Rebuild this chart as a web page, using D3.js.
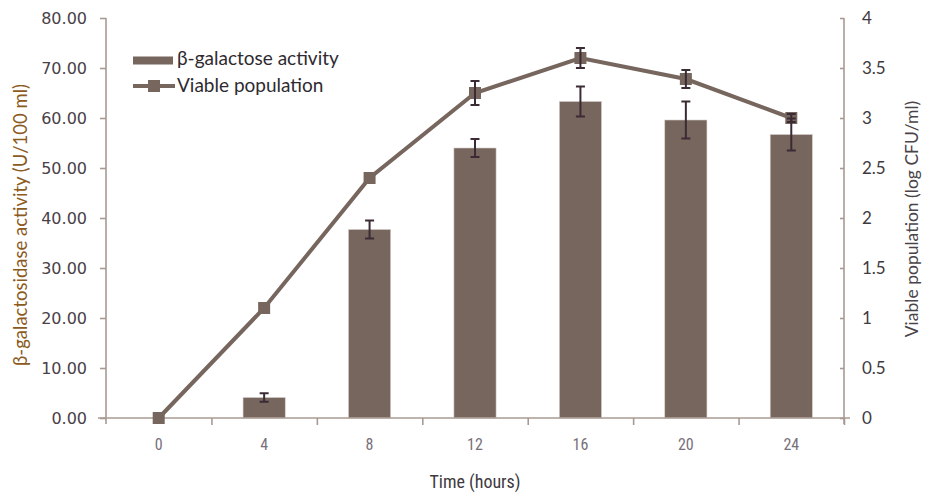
<!DOCTYPE html>
<html><head><meta charset="utf-8">
<script src="https://cdn.jsdelivr.net/npm/d3@7"></script>
<style>body{margin:0;background:#fff}svg{display:block}</style>
</head><body><svg id="c" width="925" height="496"></svg>
<script>
const hours = ["0","4","8","12","16","20","24"];
const activity = [0, 4.1, 37.7, 54.0, 63.3, 59.6, 56.7];
const activityErr = [0, 0.85, 1.8, 1.8, 3.0, 3.7, 3.2];
const viable = [0, 1.1, 2.4, 3.25, 3.6, 3.39, 3.0];
const viableErr = [0, 0, 0, 0.12, 0.1, 0.09, 0.04];
const leftTicks = [0,10,20,30,40,50,60,70,80];
const rightTicks = [0,0.5,1,1.5,2,2.5,3,3.5,4];

const svg = d3.select("#c");
const L = 106, R = 844, T = 18, B = 418;
const barCol = "#76665e", axisCol = "#a89a92", errCol = "#3a2b35";

const x = d3.scaleBand().domain(hours).range([L, R]).paddingInner(0.6).paddingOuter(0.3);
const xi = d3.scaleLinear().domain([0, hours.length]).range([L, R]);
const yL = d3.scaleLinear().domain([0, 80]).range([B, T]);
const yR = d3.scaleLinear().domain([0, 4]).range([B, T]);
const cx = h => x(h) + x.bandwidth()/2;

// bars
svg.append("g").selectAll("rect").data(hours).join("rect")
  .attr("x", d => x(d)).attr("width", x.bandwidth())
  .attr("y", (d,i) => yL(activity[i])).attr("height", (d,i) => B - yL(activity[i]))
  .attr("fill", barCol).attr("stroke", "#d8cfca").attr("stroke-width", 0.6);

// axes
const gL = svg.append("g").attr("transform", `translate(${L},0)`)
  .call(d3.axisLeft(yL).tickValues(leftTicks).tickFormat(d3.format(".2f")).tickSize(6).tickPadding(13).tickSizeOuter(0));
const gR = svg.append("g").attr("transform", `translate(${R},0)`)
  .call(d3.axisRight(yR).tickValues(rightTicks).tickFormat(d => String(d)).tickSize(-4).tickPadding(18).tickSizeOuter(0));
const gB = svg.append("g").attr("transform", `translate(0,${B})`)
  .call(d3.axisBottom(xi).tickValues(d3.range(1, hours.length+1)).tickFormat("").tickSize(7).tickSizeOuter(0));
const gBL = svg.append("g").attr("transform", `translate(0,${B})`)
  .call(d3.axisBottom(x).tickSize(0).tickPadding(21));
gBL.select(".domain").remove();
[gL, gR, gB].forEach(g => { g.selectAll("path,line").attr("stroke", axisCol).attr("stroke-width", 1.6); });
gL.select(".domain").attr("d", `M0,${T}V${B+6}`);
gR.select(".domain").attr("d", `M0,${T}V${B+6}`);
gB.select(".domain").attr("d", `M${L-8},0H${R+6}`);
gL.selectAll("text").attr("font-family", "'DejaVu Sans', Verdana, sans-serif").attr("font-size", 16).attr("fill", "#4a4048");
gR.selectAll("text").attr("font-family", "Lato, 'Open Sans', sans-serif").attr("font-size", 17).attr("fill", "#3e3a40");
gBL.selectAll("text").attr("font-family", "'Liberation Sans Narrow', 'Roboto Condensed', Roboto, sans-serif").attr("font-size", 16).attr("fill", "#77707a");

// line
const line = d3.line().x((d,i) => cx(hours[i])).y(d => yR(d));
svg.append("path").datum(viable).attr("d", line).attr("fill", "none")
  .attr("stroke", barCol).attr("stroke-width", 4);
svg.append("g").selectAll("rect").data(hours).join("rect")
  .attr("x", d => cx(d) - 6).attr("y", (d,i) => yR(viable[i]) - 6)
  .attr("width", 12).attr("height", 12).attr("fill", barCol);

// error bars
function errBars(vals, errs, sc) {
  const g = svg.append("g").attr("stroke", errCol).attr("stroke-width", 2);
  hours.forEach((h, i) => {
    if (!errs[i]) return;
    const c = cx(h), y0 = sc(vals[i] - errs[i]), y1 = sc(vals[i] + errs[i]);
    g.append("line").attr("x1", c).attr("x2", c).attr("y1", y0).attr("y2", y1);
    g.append("line").attr("x1", c-4.5).attr("x2", c+4.5).attr("y1", y0).attr("y2", y0);
    g.append("line").attr("x1", c-4.5).attr("x2", c+4.5).attr("y1", y1).attr("y2", y1);
  });
}
errBars(activity, activityErr, yL);
errBars(viable, viableErr, yR);

// titles
svg.append("text").attr("transform", "translate(27,225) rotate(-90)").attr("text-anchor", "middle")
  .attr("font-family", "Lato, 'Open Sans', sans-serif").attr("font-size", 18.5).attr("fill", "#8b5a1e")
  .text("β-galactosidase activity (U/100 ml)");
svg.append("text").attr("transform", "translate(918,219) rotate(-90)").attr("text-anchor", "middle")
  .attr("font-family", "Lato, 'Open Sans', sans-serif").attr("font-size", 17.5).attr("fill", "#4a4448")
  .text("Viable population (log CFU/ml)");
svg.append("text").attr("x", 475).attr("y", 488).attr("text-anchor", "middle")
  .attr("font-family", "'Liberation Sans Narrow', 'Roboto Condensed', Roboto, sans-serif").attr("font-size", 18).attr("fill", "#3e3a40")
  .text("Time (hours)");

// legend
const lg = svg.append("g");
lg.append("rect").attr("x", 133).attr("y", 56.5).attr("width", 40).attr("height", 8).attr("fill", barCol);
lg.append("text").attr("x", 177).attr("y", 65).attr("font-family", "Lato, 'Open Sans', sans-serif").attr("font-size", 19).attr("fill", "#2e2a30").text("β-galactose activity");
lg.append("line").attr("x1", 133).attr("x2", 175).attr("y1", 86).attr("y2", 86).attr("stroke", barCol).attr("stroke-width", 4);
lg.append("rect").attr("x", 148).attr("y", 80).attr("width", 12).attr("height", 12).attr("fill", barCol);
lg.append("text").attr("x", 177).attr("y", 92).attr("font-family", "Lato, 'Open Sans', sans-serif").attr("font-size", 19).attr("fill", "#2e2a30").text("Viable population");
</script></body></html>
